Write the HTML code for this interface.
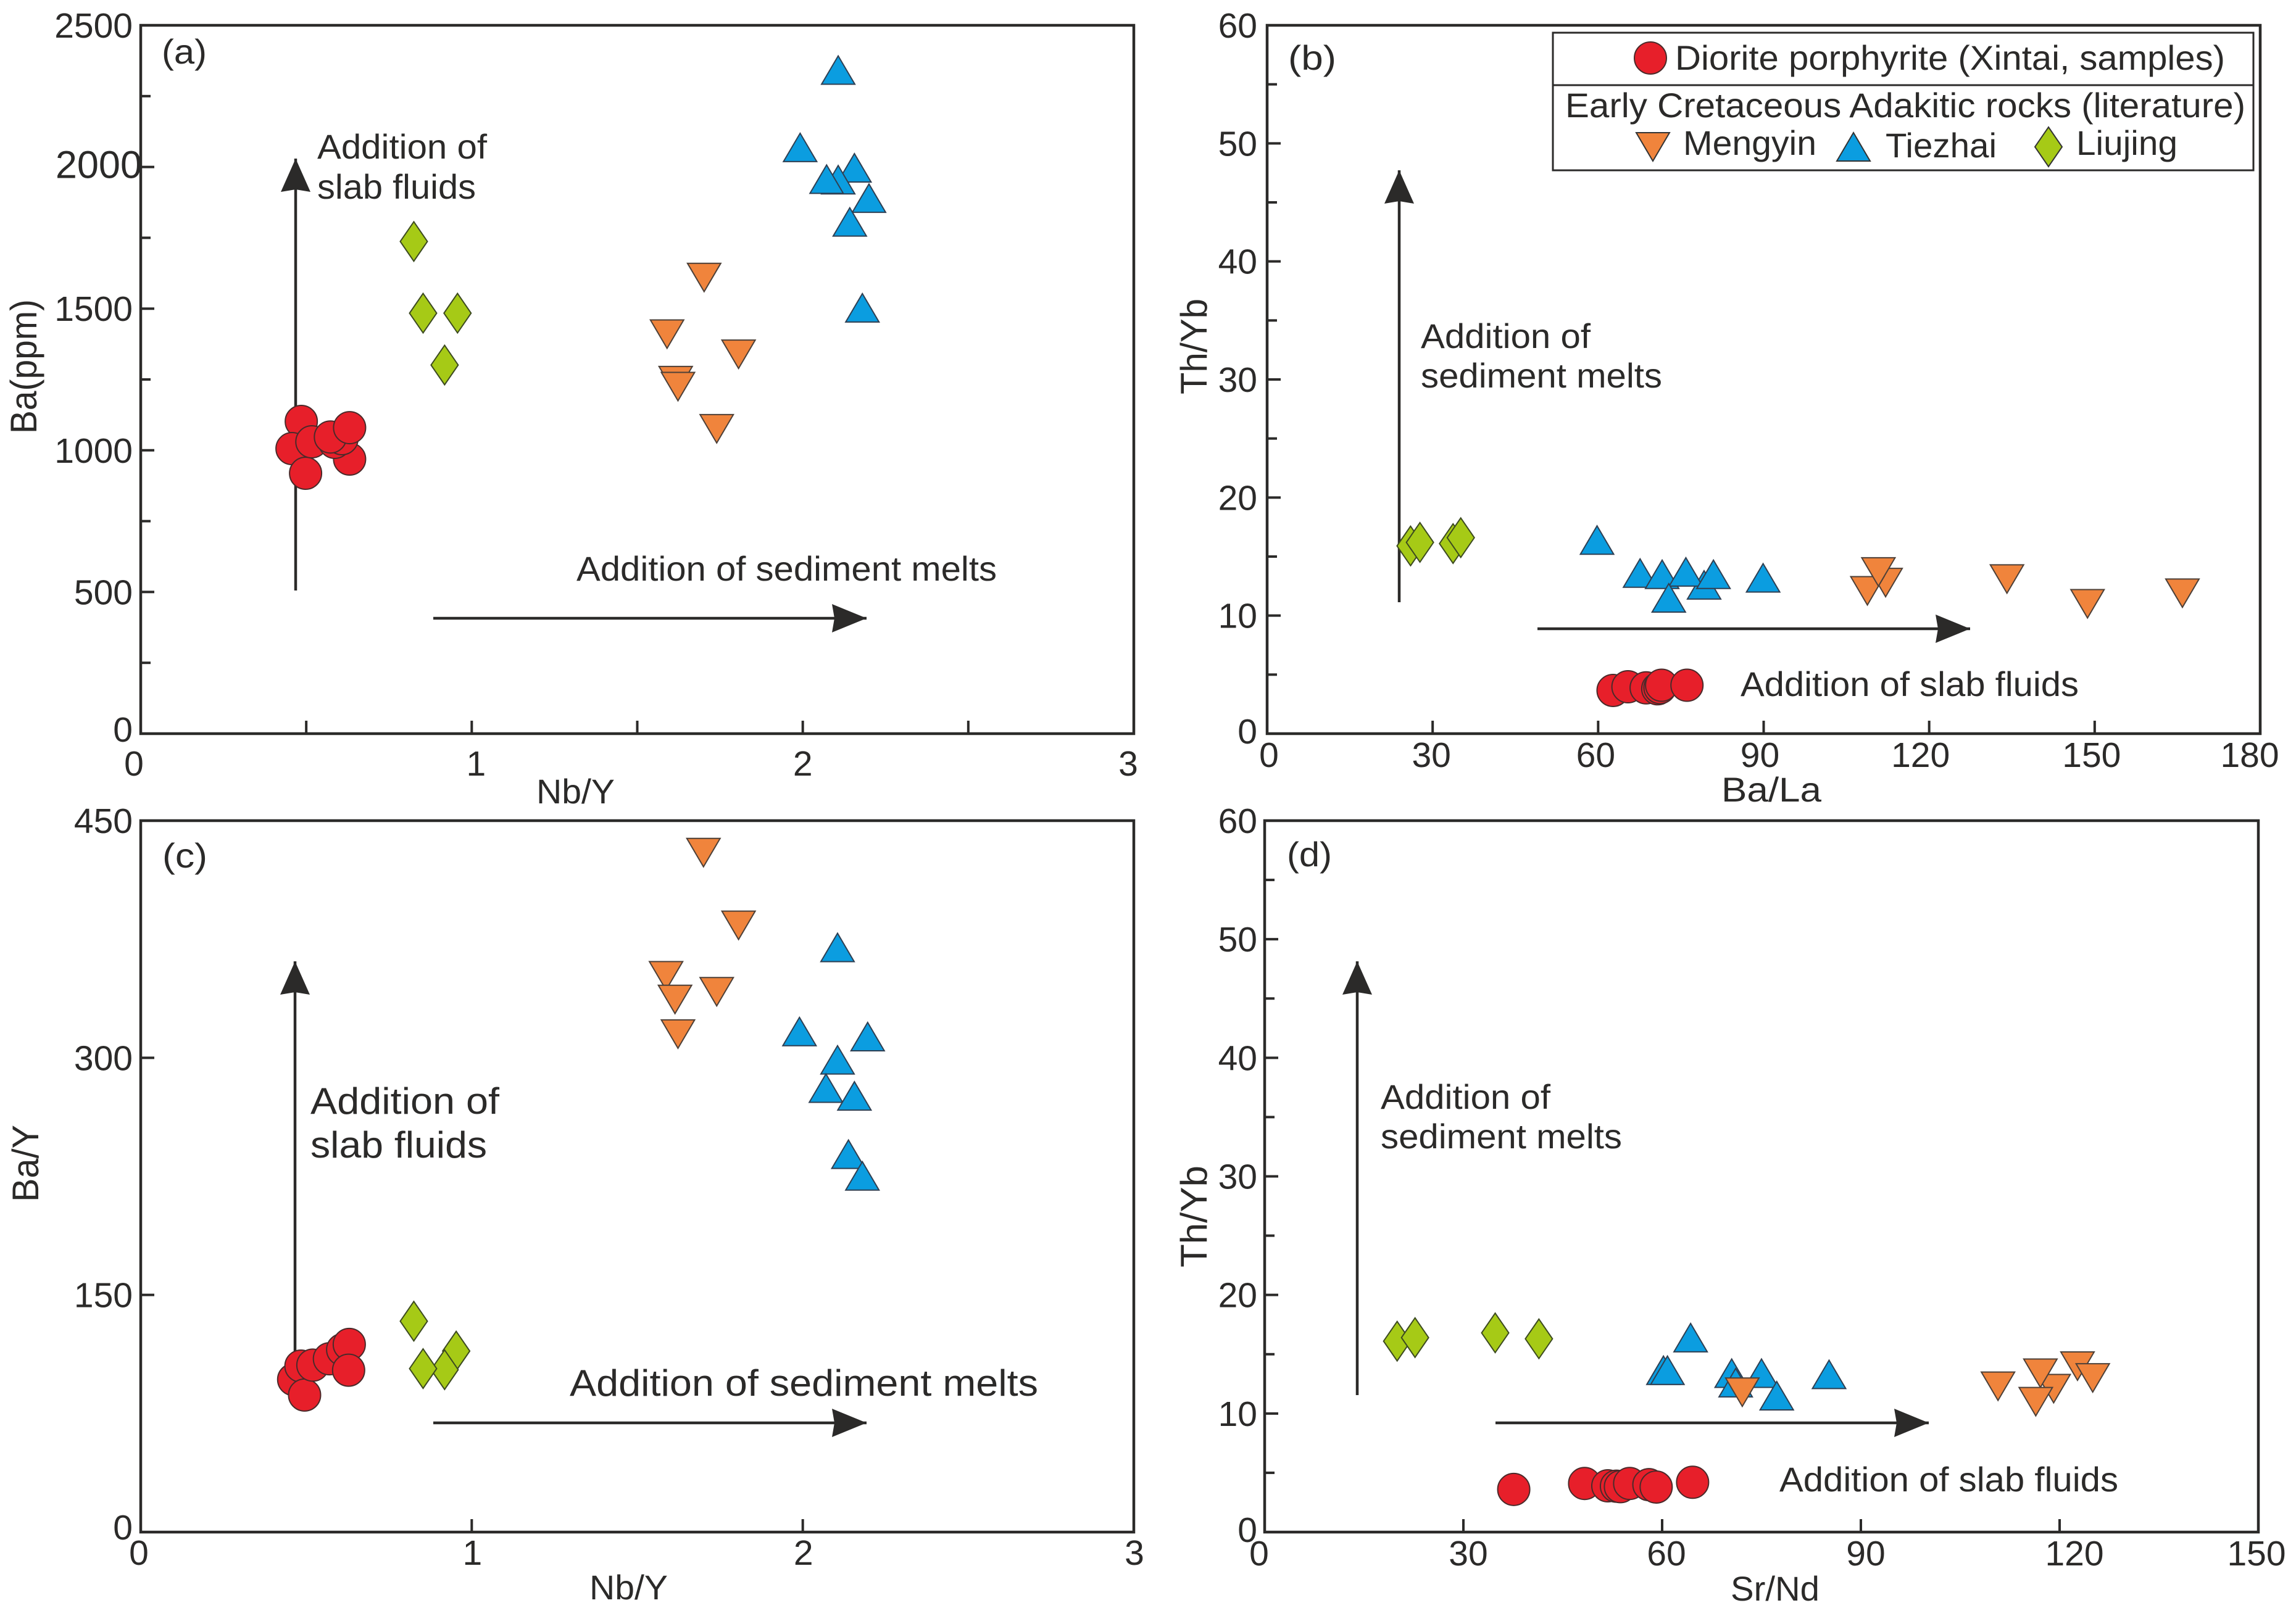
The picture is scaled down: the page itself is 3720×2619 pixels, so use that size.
<!DOCTYPE html>
<html lang="en">
<head>
<meta charset="utf-8">
<title>Trace element diagrams</title>
<style>
html,body{margin:0;padding:0;background:#fff}
svg{display:block}
text{font-family:"Liberation Sans",sans-serif;fill:#2b2a29;font-size:56px}
</style>
</head>
<body>
<svg id="chart" xmlns="http://www.w3.org/2000/svg" width="3720" height="2619" viewBox="0 0 3720 2619">
<rect width="3720" height="2619" fill="#fff"/>
<g id="panel-a">
<text x="262" y="103" textLength="73" lengthAdjust="spacingAndGlyphs">(a)</text>
<text x="869" y="1302" textLength="127" lengthAdjust="spacingAndGlyphs">Nb/Y</text>
<text style="font-size:60px" transform="translate(59,703) rotate(-90)" textLength="218" lengthAdjust="spacingAndGlyphs">Ba(ppm)</text>
<text x="514" y="257" textLength="275" lengthAdjust="spacingAndGlyphs">Addition of</text>
<text x="514" y="322" textLength="257" lengthAdjust="spacingAndGlyphs">slab fluids</text>
<text x="934" y="941" textLength="681" lengthAdjust="spacingAndGlyphs">Addition of sediment melts</text>
</g>
<g id="panel-b">
<text x="2087" y="113" textLength="78" lengthAdjust="spacingAndGlyphs">(b)</text>
<text x="2789" y="1299" textLength="162" lengthAdjust="spacingAndGlyphs">Ba/La</text>
<text style="font-size:60px" transform="translate(1955,639) rotate(-90)" textLength="155" lengthAdjust="spacingAndGlyphs">Th/Yb</text>
<text x="2302" y="564" textLength="275" lengthAdjust="spacingAndGlyphs">Addition of</text>
<text x="2302" y="628" textLength="391" lengthAdjust="spacingAndGlyphs">sediment melts</text>
<text x="2820" y="1128" textLength="548" lengthAdjust="spacingAndGlyphs">Addition of slab fluids</text>
</g>
<g id="panel-c">
<text x="263" y="1406" textLength="73" lengthAdjust="spacingAndGlyphs">(c)</text>
<text x="955" y="2592" textLength="127" lengthAdjust="spacingAndGlyphs">Nb/Y</text>
<text style="font-size:60px" transform="translate(62,1948) rotate(-90)" textLength="125" lengthAdjust="spacingAndGlyphs">Ba/Y</text>
<text x="503" y="1805" style="font-size:60px" textLength="306" lengthAdjust="spacingAndGlyphs">Addition of</text>
<text x="503" y="1876" style="font-size:60px" textLength="286" lengthAdjust="spacingAndGlyphs">slab fluids</text>
<text x="923" y="2262" style="font-size:60px" textLength="759" lengthAdjust="spacingAndGlyphs">Addition of sediment melts</text>
</g>
<g id="panel-d">
<text x="2085" y="1404" textLength="73" lengthAdjust="spacingAndGlyphs">(d)</text>
<text x="2804" y="2594" textLength="144" lengthAdjust="spacingAndGlyphs">Sr/Nd</text>
<text style="font-size:60px" transform="translate(1955,2054) rotate(-90)" textLength="165" lengthAdjust="spacingAndGlyphs">Th/Yb</text>
<text x="2237" y="1797" textLength="275" lengthAdjust="spacingAndGlyphs">Addition of</text>
<text x="2237" y="1861" textLength="391" lengthAdjust="spacingAndGlyphs">sediment melts</text>
<text x="2883" y="2417" textLength="549" lengthAdjust="spacingAndGlyphs">Addition of slab fluids</text>
</g>
<g id="legend">
<rect x="2516" y="53" width="1135" height="223" fill="#fff" stroke="#2b2a29" stroke-width="3"/>
<line x1="2516" y1="138" x2="3651" y2="138" stroke="#2b2a29" stroke-width="3"/>
<ellipse cx="2674" cy="94" rx="26" ry="26" fill="#e71f2a" stroke="#4a2a2a" stroke-width="2"/>
<text x="2714" y="113" textLength="891" lengthAdjust="spacingAndGlyphs">Diorite porphyrite (Xintai, samples)</text>
<text x="2536" y="190" textLength="1102" lengthAdjust="spacingAndGlyphs">Early Cretaceous Adakitic rocks (literature)</text>
<polygon points="2651,215 2705,215 2678,261" fill="#f0843c" stroke="#333" stroke-width="2"/>
<text x="2727" y="251" textLength="216" lengthAdjust="spacingAndGlyphs">Mengyin</text>
<polygon points="2976,261 3030,261 3003,215" fill="#0b9de0" stroke="#333" stroke-width="2"/>
<text x="3055" y="255" textLength="180" lengthAdjust="spacingAndGlyphs">Tiezhai</text>
<polygon points="3319,206 3341,238 3319,270 3297,238" fill="#a6ca16" stroke="#333" stroke-width="2"/>
<text x="3364" y="251" textLength="164" lengthAdjust="spacingAndGlyphs">Liujing</text>
</g>
</svg>
<script>
// ---- Panel (a) Ba vs Nb/Y ----
const aXDomain = [0, 3];
const aYDomain = [0, 2500];
const aXTickLabels = ['0', '1', '2', '3'];
const aYTickLabels = ['0', '500', '1000', '1500', '2000', '2500'];
const aXTickMarks = [0.5, 1, 1.5, 2, 2.5];
const aYMinorTicks = [250, 750, 1250, 1750, 2250];
const aYMajorTicks = [500, 1000, 1500, 2000];
const aTiezhaiX = [2.107, 1.992, 2.156, 2.107, 2.072, 2.2, 2.142, 2.18];
const aTiezhaiY = [2342, 2069, 1997, 1955, 1957, 1890, 1806, 1503];
const aMengyinX = [1.702, 1.59, 1.806, 1.616, 1.623, 1.74];
const aMengyinY = [1610, 1410, 1339, 1246, 1225, 1076];
const aLiujingX = [0.825, 0.853, 0.957, 0.918];
const aLiujingY = [1737, 1484, 1484, 1301];
const aDioriteX = [0.485, 0.457, 0.498, 0.517, 0.631, 0.586, 0.608, 0.573, 0.631];
const aDioriteY = [1102, 1006, 919, 1030, 969, 1028, 1041, 1047, 1080];

// ---- Panel (b) Th/Yb vs Ba/La ----
const bXDomain = [0, 180];
const bYDomain = [0, 60];
const bXTickLabels = ['0', '30', '60', '90', '120', '150', '180'];
const bYTickLabels = ['0', '10', '20', '30', '40', '50', '60'];
const bXTickMarks = [30, 60, 90, 120, 150];
const bYMinorTicks = [5, 15, 25, 35, 45, 55];
const bYMajorTicks = [10, 20, 30, 40, 50];
const bTiezhaiX = [59.8, 79.2, 67.6, 71.6, 75.9, 80.9, 89.9, 72.8];
const bTiezhaiY = [16.4, 12.6, 13.6, 13.5, 13.7, 13.5, 13.2, 11.5];
const bMengyinX = [112.1, 108.8, 110.8, 134.1, 148.7, 165.9];
const bMengyinY = [12.8, 12.1, 13.7, 13.1, 11, 11.9];
const bLiujingX = [26, 27.7, 33.7, 35.1];
const bLiujingY = [15.9, 16.2, 16.1, 16.6];
const bDioriteX = [62.7, 65.4, 68.7, 70.8, 71.2, 71.5, 76.1];
const bDioriteY = [3.66, 3.97, 3.88, 3.8, 3.9, 4.1, 4.1];

// ---- Panel (c) Ba/Y vs Nb/Y ----
const cXDomain = [0, 3];
const cYDomain = [0, 450];
const cXTickLabels = ['0', '1', '2', '3'];
const cYTickLabels = ['0', '150', '300', '450'];
const cXTickMarks = [1, 2];
const cYMinorTicks = [];
const cYMajorTicks = [150, 300];
const cTiezhaiX = [2.105, 1.99, 2.196, 2.105, 2.07, 2.156, 2.138, 2.18];
const cTiezhaiY = [369.8, 316.6, 313.4, 298.7, 280.8, 275.9, 239, 225.3];
const cMengyinX = [1.70, 1.806, 1.587, 1.74, 1.614, 1.623];
const cMengyinY = [429.8, 383.8, 351.9, 341.8, 336.9, 315];
const cLiujingX = [0.825, 0.953, 0.918, 0.853];
const cLiujingY = [133.4, 114.5, 102.7, 103.4];
const cDioriteX = [0.462, 0.484, 0.495, 0.52, 0.57, 0.61, 0.63, 0.628];
const cDioriteY = [96.5, 105, 86.7, 105.6, 109.6, 115.4, 118.7, 102.4];

// ---- Panel (d) Th/Yb vs Sr/Nd ----
const dXDomain = [0, 150];
const dYDomain = [0, 60];
const dXTickLabels = ['0', '30', '60', '90', '120', '150'];
const dYTickLabels = ['0', '10', '20', '30', '40', '50', '60'];
const dXTickMarks = [30, 60, 90, 120];
const dYMinorTicks = [5, 15, 25, 35, 45, 55];
const dYMajorTicks = [10, 20, 30, 40, 50];
const dTiezhaiX = [64.3, 60.2, 60.8, 70.5, 75, 71.1, 77.3, 85.2];
const dTiezhaiY = [16.4, 13.65, 13.65, 13.4, 13.4, 12.6, 11.5, 13.3];
const dMengyinX = [122.7, 125, 119.1, 117.1, 110.7, 116.4, 72.1];
const dMengyinY = [14, 13, 12.1, 13.4, 12.3, 11, 11.8];
const dLiujingX = [20, 22.7, 34.8, 41.4];
const dLiujingY = [16.1, 16.4, 16.8, 16.3];
const dDioriteX = [37.6, 48.3, 51.8, 53.1, 53.7, 55.1, 58, 59.1, 64.6];
const dDioriteY = [3.6, 4.1, 3.9, 3.87, 3.83, 4.1, 4, 3.8, 4.2];

const SVG_NS = 'http://www.w3.org/2000/svg';
const INK = '#2b2a29';
const TICK_FONT = 57;

function make(tag, attrs, parent) {
  const el = document.createElementNS(SVG_NS, tag);
  for (const k in attrs) el.setAttribute(k, attrs[k]);
  parent.appendChild(el);
  return el;
}

function line(parent, name, x1, y1, x2, y2, width) {
  const el = make('line', { x1: x1, y1: y1, x2: x2, y2: y2, stroke: INK, 'stroke-width': width }, parent);
  
  
  return el;
}

function tickText(parent, name, str, x, y, anchor, size) {
  const el = make('text', { x: x, y: y, 'text-anchor': anchor, style: 'font-size:' + size + 'px' }, parent);
  el.textContent = str;
  
  
  return el;
}

function marker(parent, kind, cx, cy) {
  let el;
  if (kind === 'diorite') {
    el = make('ellipse', { cx: cx, cy: cy, rx: 26, ry: 26, fill: '#e71f2a', stroke: '#4a2a2a', 'stroke-width': 2 }, parent);
  } else if (kind === 'tiezhai') {
    el = make('polygon', { points: [cx - 27, cy + 23, cx + 27, cy + 23, cx, cy - 23].join(' '), fill: '#0b9de0', stroke: '#2f3f52', 'stroke-width': 2 }, parent);
  } else if (kind === 'mengyin') {
    el = make('polygon', { points: [cx - 27, cy - 23, cx + 27, cy - 23, cx, cy + 23].join(' '), fill: '#f0843c', stroke: '#4d4038', 'stroke-width': 2 }, parent);
  } else {
    el = make('polygon', { points: [cx, cy - 32, cx + 22, cy, cx, cy + 32, cx - 22, cy].join(' '), fill: '#a6ca16', stroke: '#3c4a20', 'stroke-width': 2 }, parent);
  }
  
  
}

function arrow(parent, name, x1, y1, x2, y2) {
  line(parent, name + '-shaft', x1, y1, x2, y2, 4.5);
  const vertical = x1 === x2;
  const back = vertical ? 54 : 56;
  const half = vertical ? 24 : 23;
  const notch = 4;
  let pts;
  if (vertical) {
    pts = [x2, y2, x2 + half, y2 + back, x2, y2 + back - notch, x2 - half, y2 + back];
  } else {
    pts = [x2, y2, x2 - back, y2 - half, x2 - back + notch, y2, x2 - back, y2 + half];
  }
  const head = make('polygon', { points: pts.join(' '), fill: INK }, parent);
  
  
}

function drawPanel(cfg) {
  const g = document.getElementById(cfg.id);
  const sx = v => cfg.box.x0 + (v - cfg.xDomain[0]) / (cfg.xDomain[1] - cfg.xDomain[0]) * (cfg.box.x1 - cfg.box.x0);
  const sy = v => cfg.box.y1 - (v - cfg.yDomain[0]) / (cfg.yDomain[1] - cfg.yDomain[0]) * (cfg.box.y1 - cfg.box.y0);
  const frame = make('rect', { x: cfg.box.x0, y: cfg.box.y0, width: cfg.box.x1 - cfg.box.x0, height: cfg.box.y1 - cfg.box.y0, fill: 'none', stroke: INK, 'stroke-width': 4.5 }, g);
  
  
  cfg.xMarks.forEach(v => line(g, 'x-tick', sx(v), cfg.box.y1, sx(v), cfg.box.y1 - 21, 4));
  cfg.yMinor.forEach(v => line(g, 'y-minor-tick', cfg.box.x0, sy(v), cfg.box.x0 + 16, sy(v), 4));
  cfg.yMajor.forEach(v => line(g, 'y-major-tick', cfg.box.x0, sy(v), cfg.box.x0 + 22, sy(v), 4));
  cfg.xLabels.forEach((s, i) => tickText(g, 'x-tick-label', s, sx(+s) + cfg.xLabelNudge[i], cfg.box.y1 + cfg.xLabelDy, 'middle', TICK_FONT));
  cfg.yLabels.forEach(s => {
    const big = cfg.id === 'panel-a' && s === '2000';
    const atZero = +s === cfg.yDomain[0];
    tickText(g, 'y-tick-label', s, big ? cfg.box.x0 + 2 : cfg.box.x0 - cfg.yLabelGap, sy(+s) + (big ? 18 : 20) - (atZero ? cfg.yLabelLift : 0), 'end', big ? 63 : TICK_FONT);
  });
  cfg.arrows.forEach(a => arrow(g, a[0], a[1], a[2], a[3], a[4]));
  cfg.series.forEach(s => s[1].forEach((v, i) => marker(g, s[0], sx(v), sy(s[2][i]))));
}

drawPanel({
  id: 'panel-a', box: { x0: 228, x1: 1837, y0: 41, y1: 1189 },
  xDomain: aXDomain, yDomain: aYDomain, xLabels: aXTickLabels, yLabels: aYTickLabels,
  xMarks: aXTickMarks, yMinor: aYMinorTicks, yMajor: aYMajorTicks, xLabelNudge: [-11, 7, 0, -9], xLabelDy: 68, yLabelGap: 13, yLabelLift: 7,
  arrows: [['slab-fluids-arrow', 479, 957, 479, 257], ['sediment-melts-arrow', 702, 1002, 1404, 1002]],
  series: [['tiezhai', aTiezhaiX, aTiezhaiY], ['mengyin', aMengyinX, aMengyinY], ['liujing', aLiujingX, aLiujingY], ['diorite', aDioriteX, aDioriteY]]
});
drawPanel({
  id: 'panel-b', box: { x0: 2053, x1: 3662, y0: 41, y1: 1189 },
  xDomain: bXDomain, yDomain: bYDomain, xLabels: bXTickLabels, yLabels: bYTickLabels,
  xMarks: bXTickMarks, yMinor: bYMinorTicks, yMajor: bYMajorTicks, xLabelNudge: [3, -2, -4, -6, -14, -5, -17], xLabelDy: 54, yLabelGap: 16, yLabelLift: 4,
  arrows: [['sediment-melts-arrow', 2267, 976, 2267, 276], ['slab-fluids-arrow', 2491, 1019, 3192, 1019]],
  series: [['liujing', bLiujingX, bLiujingY], ['tiezhai', bTiezhaiX, bTiezhaiY], ['mengyin', bMengyinX, bMengyinY], ['diorite', bDioriteX, bDioriteY]]
});
drawPanel({
  id: 'panel-c', box: { x0: 228, x1: 1837, y0: 1330, y1: 2483 },
  xDomain: cXDomain, yDomain: cYDomain, xLabels: cXTickLabels, yLabels: cYTickLabels,
  xMarks: cXTickMarks, yMinor: cYMinorTicks, yMajor: cYMajorTicks, xLabelNudge: [-3, 1, 1, 1], xLabelDy: 53, yLabelGap: 13, yLabelLift: 8,
  arrows: [['slab-fluids-arrow', 478, 2229, 478, 1558], ['sediment-melts-arrow', 702, 2306, 1404, 2306]],
  series: [['mengyin', cMengyinX, cMengyinY], ['tiezhai', cTiezhaiX, cTiezhaiY], ['liujing', cLiujingX, cLiujingY], ['diorite', cDioriteX, cDioriteY]]
});
drawPanel({
  id: 'panel-d', box: { x0: 2049, x1: 3659, y0: 1330, y1: 2483 },
  xDomain: dXDomain, yDomain: dYDomain, xLabels: dXTickLabels, yLabels: dYTickLabels,
  xMarks: dXTickMarks, yMinor: dYMinorTicks, yMajor: dYMajorTicks, xLabelNudge: [-9, 8, 7, 8, 24, -3], xLabelDy: 54, yLabelGap: 12, yLabelLift: 4,
  arrows: [['sediment-melts-arrow', 2199, 2261, 2199, 1558], ['slab-fluids-arrow', 2423, 2306, 3125, 2306]],
  series: [['liujing', dLiujingX, dLiujingY], ['tiezhai', dTiezhaiX, dTiezhaiY], ['mengyin', dMengyinX, dMengyinY], ['diorite', dDioriteX, dDioriteY]]
});
document.querySelector('#chart').appendChild(document.getElementById('legend'));
</script>
</body>
</html>
